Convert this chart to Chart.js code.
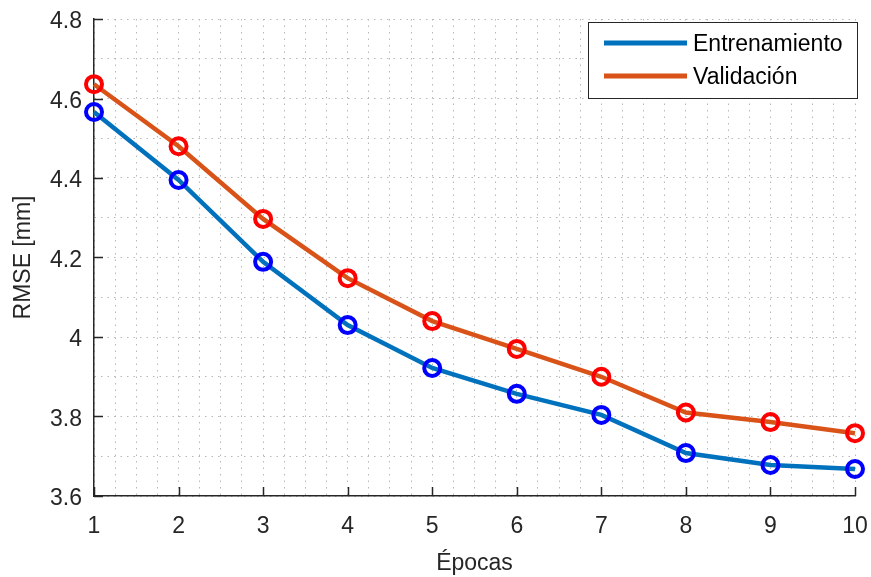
<!DOCTYPE html>
<html>
<head>
<meta charset="utf-8">
<script src="https://cdn.jsdelivr.net/npm/chart.js@4/dist/chart.umd.min.js"></script>
<style>
  html, body { margin: 0; padding: 0; background: #fff; }
  #wrap { width: 871px; height: 577px; }
</style>
</head>
<body>
<div id="wrap"><canvas id="grafica" width="871" height="577"></canvas></div>
<script>
// Datos
const epocas = [1, 2, 3, 4, 5, 6, 7, 8, 9, 10];
const rmseEntrenamiento = [4.566, 4.395, 4.189, 4.030, 3.922, 3.857, 3.804, 3.708, 3.678, 3.668];
const rmseValidacion = [4.636, 4.480, 4.297, 4.148, 4.040, 3.970, 3.900, 3.810, 3.786, 3.758];
const series = ["Entrenamiento", "Validación"];
const coloresLinea = ["#0072BD", "#D95319"];
const coloresMarcador = ["#0000FF", "#FF0000"];
const yMin = 3.6, yMax = 4.8;
const xMin = 1, xMax = 10;

const FUENTE = "'Liberation Sans', Arial, Helvetica, sans-serif";
const EJE = "#262626";
const REJILLA = "#b8b8b8";

// Ticks hacia adentro (estilo MATLAB)
const ticksInternos = {
    id: "ticksInternos",
    afterDraw(chart) {
        const { ctx, chartArea, scales } = chart;
        ctx.save();
        ctx.strokeStyle = EJE;
        ctx.lineWidth = 1.5;
        ctx.beginPath();
        for (let v = xMin; v <= xMax; v++) {
            const px = Math.round(scales.x.getPixelForValue(v)) + 0.5;
            ctx.moveTo(px, chartArea.bottom);
            ctx.lineTo(px, chartArea.bottom - 9);
        }
        for (let i = 0; i <= 6; i++) {
            const py = Math.round(scales.y.getPixelForValue(yMin + i * 0.2)) + 0.5;
            ctx.moveTo(chartArea.left, py);
            ctx.lineTo(chartArea.left + 9, py);
        }
        ctx.stroke();
        ctx.restore();
    }
};

// Leyenda con recuadro dentro del área de la gráfica
const leyendaCaja = {
    id: "leyendaCaja",
    afterDraw(chart) {
        const { ctx } = chart;
        const x0 = 588, y0 = 22, w = 269, h = 76;
        ctx.save();
        ctx.fillStyle = "#fff";
        ctx.fillRect(x0, y0, w, h);
        ctx.strokeStyle = "#262626";
        ctx.lineWidth = 1;
        ctx.strokeRect(x0 + 0.5, y0 + 0.5, w, h);
        ctx.font = "23px " + FUENTE;
        ctx.textBaseline = "middle";
        chart.data.datasets.forEach((ds, i) => {
            const yy = y0 + 21 + i * 33;
            ctx.strokeStyle = ds.borderColor;
            ctx.lineWidth = 5;
            ctx.beginPath();
            ctx.moveTo(604, yy);
            ctx.lineTo(687, yy);
            ctx.stroke();
            ctx.fillStyle = "#000";
            ctx.fillText(ds.label, 693, yy + 2);
        });
        ctx.restore();
    }
};

new Chart(document.getElementById("grafica"), {
    type: "line",
    data: {
        datasets: [
            {
                label: series[0],
                data: epocas.map((e, i) => ({ x: e, y: rmseEntrenamiento[i] })),
                borderColor: coloresLinea[0],
                borderWidth: 4.5,
                pointRadius: 8,
                pointBorderWidth: 4,
                pointBorderColor: coloresMarcador[0],
                pointBackgroundColor: "rgba(0,0,0,0)",
                tension: 0
            },
            {
                label: series[1],
                data: epocas.map((e, i) => ({ x: e, y: rmseValidacion[i] })),
                borderColor: coloresLinea[1],
                borderWidth: 4.5,
                pointRadius: 8,
                pointBorderWidth: 4,
                pointBorderColor: coloresMarcador[1],
                pointBackgroundColor: "rgba(0,0,0,0)",
                tension: 0
            }
        ]
    },
    options: {
        responsive: false,
        animation: false,
        clip: false,
        layout: { padding: { left: 0, right: 16, top: 19, bottom: 0 } },
        plugins: {
            legend: { display: false },
            tooltip: { enabled: false }
        },
        scales: {
            x: {
                type: "linear",
                min: xMin,
                max: xMax,
                afterFit(s) { s.height = 81; s.paddingLeft = 0; s.paddingRight = 0; },
                afterBuildTicks(s) {
                    const t = [];
                    for (let v = xMin; v <= xMax + 1e-9; v += 0.25) t.push({ value: v });
                    s.ticks = t;
                },
                ticks: {
                    autoSkip: false,
                    maxRotation: 0,
                    padding: 17,
                    color: EJE,
                    font: { family: FUENTE, size: 23 },
                    callback: v => Number.isInteger(v) ? String(v) : ""
                },
                grid: { color: REJILLA, lineWidth: 1, drawTicks: false },
                border: { display: true, color: EJE, width: 1.5, dash: [1.5, 5] },
                title: {
                    display: true,
                    text: "Épocas",
                    color: EJE,
                    font: { family: FUENTE, size: 23 },
                    padding: { top: 0, bottom: 0 }
                }
            },
            y: {
                type: "linear",
                min: yMin,
                max: yMax,
                afterFit(s) { s.width = 94; s.paddingTop = 0; s.paddingBottom = 0; },
                afterBuildTicks(s) {
                    const t = [];
                    for (let i = 0; i <= 12; i++) t.push({ value: Math.round((yMin + i * 0.1) * 10) / 10 });
                    s.ticks = t;
                },
                ticks: {
                    autoSkip: false,
                    padding: 12,
                    labelOffset: 3,
                    color: EJE,
                    font: { family: FUENTE, size: 23 },
                    callback: v => (Math.round(v * 10) % 2 === 0) ? String(Math.round(v * 10) / 10) : ""
                },
                grid: { color: REJILLA, lineWidth: 1, drawTicks: false },
                border: { display: true, color: EJE, width: 1.5, dash: [1.5, 5] },
                title: {
                    display: true,
                    text: "RMSE [mm]",
                    color: EJE,
                    font: { family: FUENTE, size: 23 },
                    padding: { top: 10, bottom: 0 }
                }
            }
        }
    },
    plugins: [ticksInternos, leyendaCaja]
});
</script>
</body>
</html>
